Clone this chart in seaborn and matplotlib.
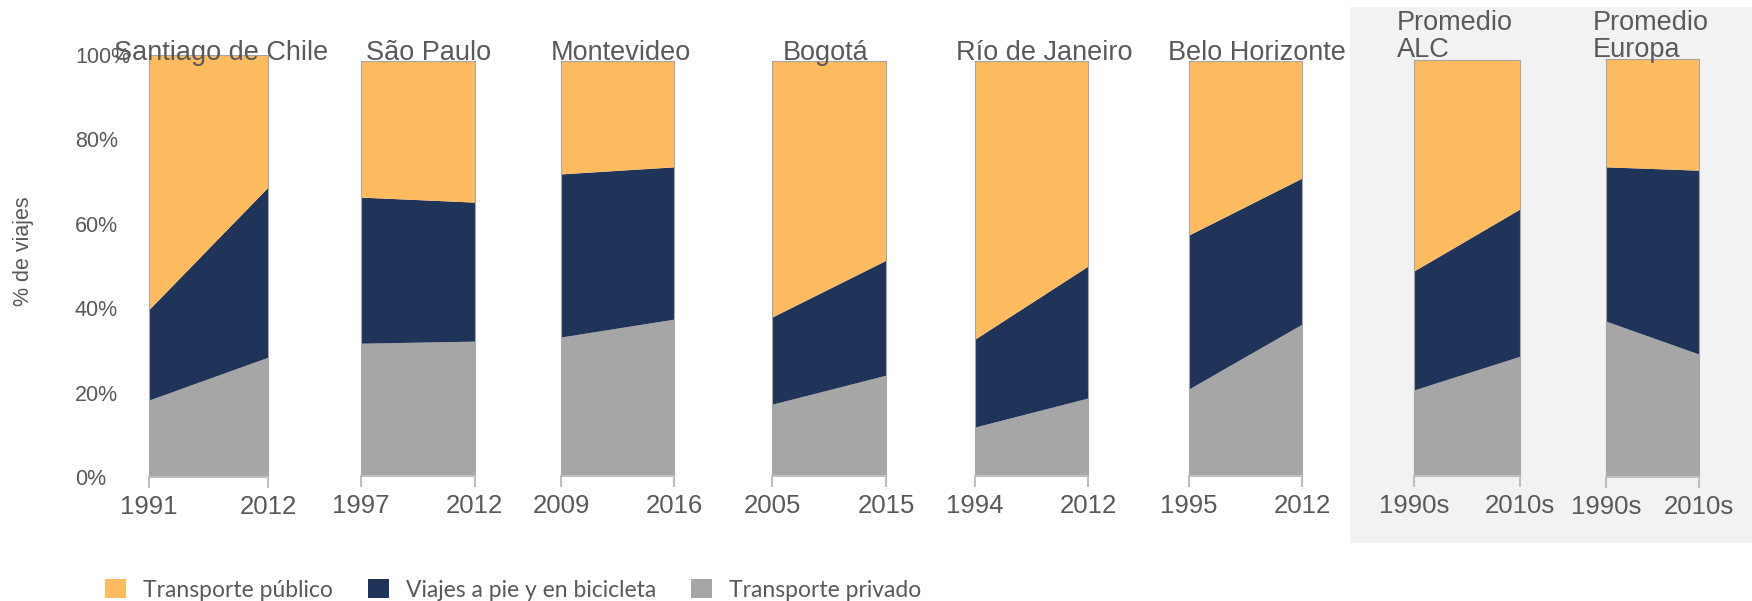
import matplotlib
matplotlib.use("Agg")
import matplotlib.pyplot as plt
from matplotlib.patches import Patch, Rectangle
import seaborn as sns
import numpy as np

# ---------------- data ----------------
cities = ["Santiago de Chile", "São Paulo", "Montevideo", "Bogotá",
          "Río de Janeiro", "Belo Horizonte", "Promedio\nALC", "Promedio\nEuropa"]
periods = [["1991", "2012"], ["1997", "2012"], ["2009", "2016"], ["2005", "2015"],
           ["1994", "2012"], ["1995", "2012"], ["1990s", "2010s"], ["1990s", "2010s"]]
privado = [[18.2, 28.4], [32.0, 32.5], [33.5, 37.8], [17.3, 24.3],
           [11.8, 18.8], [21.0, 36.6], [20.7, 28.8], [37.3, 29.4]]
pie_bici = [[21.4, 40.3], [35.2, 33.5], [39.3, 36.7], [21.0, 27.7],
            [21.2, 31.8], [37.1, 35.2], [28.6, 35.4], [36.9, 44.0]]
publico = [[60.4, 31.3], [32.8, 34.0], [27.2, 25.5], [61.7, 48.0],
           [67.0, 49.4], [41.9, 28.2], [50.7, 35.8], [25.8, 26.6]]
series_names = ["Transporte público", "Viajes a pie y en bicicleta", "Transporte privado"]
yticks = [0, 20, 40, 60, 80, 100]
ytick_labels = ["0%", "20%", "40%", "60%", "80%", "100%"]

# ---------------- style ----------------
sns.set_theme(style="white")
plt.rcParams["font.family"] = ["Liberation Sans", "DejaVu Sans"]
C_PUB, C_PIE, C_PRIV = "#FDBB5F", "#203358", "#A6A6A6"
TXT = "#595959"

W, H = 1752, 601
fig = plt.figure(figsize=(W / 100, H / 100), dpi=100)
fig.patch.set_facecolor("white")

def fbox(x0, y0, x1, y1):
    return [x0 / W, 1 - y1 / H, (x1 - x0) / W, (y1 - y0) / H]

# shaded background for averages (behind all axes)
fig.patches.append(Rectangle((1350 / W, 1 - 543 / H), (W - 1350) / W, (543 - 7) / H,
                             transform=fig.transFigure, facecolor="#F2F2F2",
                             edgecolor="none", zorder=-10))

boxes = [(148.5, 55, 268, 477), (361, 61, 474.5, 476), (561, 61, 674, 476),
         (772, 61, 886, 476), (975, 61, 1088, 476), (1189, 61, 1302, 476),
         (1414, 60, 1520, 476), (1606, 59, 1699, 477)]
title_x = [221, 429, 621, 826, 1044, 1257]

for i, box in enumerate(boxes):
    ax = fig.add_axes(fbox(*box))
    ax.set_zorder(1)
    ax.set_facecolor("none")
    x = np.arange(2)
    ax.stackplot(x, privado[i], pie_bici[i], publico[i],
                 colors=[C_PRIV, C_PIE, C_PUB], linewidth=0)
    ax.set_xlim(0, 1)
    ax.set_ylim(0, 100)
    ax.set_xticks(x)
    ax.set_xticklabels(periods[i], fontsize=18.5, color=TXT)
    ax.tick_params(axis="x", which="both", bottom=True, length=8, width=1.5,
                   color="#BFBFBF", pad=5, direction="out")
    for s in ["left", "right", "top"]:
        ax.spines[s].set_visible(True)
        ax.spines[s].set_color("#A6A6A6")
        ax.spines[s].set_linewidth(0.8)
    ax.spines["bottom"].set_color("#BFBFBF")
    ax.spines["bottom"].set_linewidth(1.5)
    if i == 0:
        ax.set_yticks(yticks)
        ax.set_yticklabels(ytick_labels, fontsize=15.5, color=TXT)
        ax.tick_params(axis="y", length=0, pad=53)
        for lab in ax.get_yticklabels():
            lab.set_horizontalalignment("left")
    else:
        ax.set_yticks([])
    if i < 6:
        fig.text(title_x[i] / W, 1 - 60 / H, cities[i], ha="center", va="baseline",
                 fontsize=19.5, color=TXT, zorder=5)

# two-line titles for averages
for tx, (l1, l2) in zip([1397, 1593], [c.split("\n") for c in cities[6:]]):
    fig.text(tx / W, 1 - 30 / H, l1, ha="left", va="baseline", fontsize=19.5, color=TXT, zorder=5)
    fig.text(tx / W, 1 - 57 / H, l2, ha="left", va="baseline", fontsize=19.5, color=TXT, zorder=5)

fig.text(23 / W, 1 - 251 / H, "% de viajes", rotation=90, ha="center", va="center",
         fontsize=15.5, color=TXT)

handles = [Patch(facecolor=c, edgecolor="none") for c in [C_PUB, C_PIE, C_PRIV]]
leg = fig.legend(handles, series_names, ncol=3, loc="center left",
                 bbox_to_anchor=(105 / W, 1 - 590 / H), frameon=False,
                 prop={"family": ["Lato", "DejaVu Sans"], "size": 16.5},
                 handlelength=0.9, handleheight=0.9, handletextpad=0.74,
                 columnspacing=1.55, borderpad=0, borderaxespad=0)
for t in leg.get_texts():
    t.set_color(TXT)

fig.savefig("out.png", dpi=100, facecolor="white")
